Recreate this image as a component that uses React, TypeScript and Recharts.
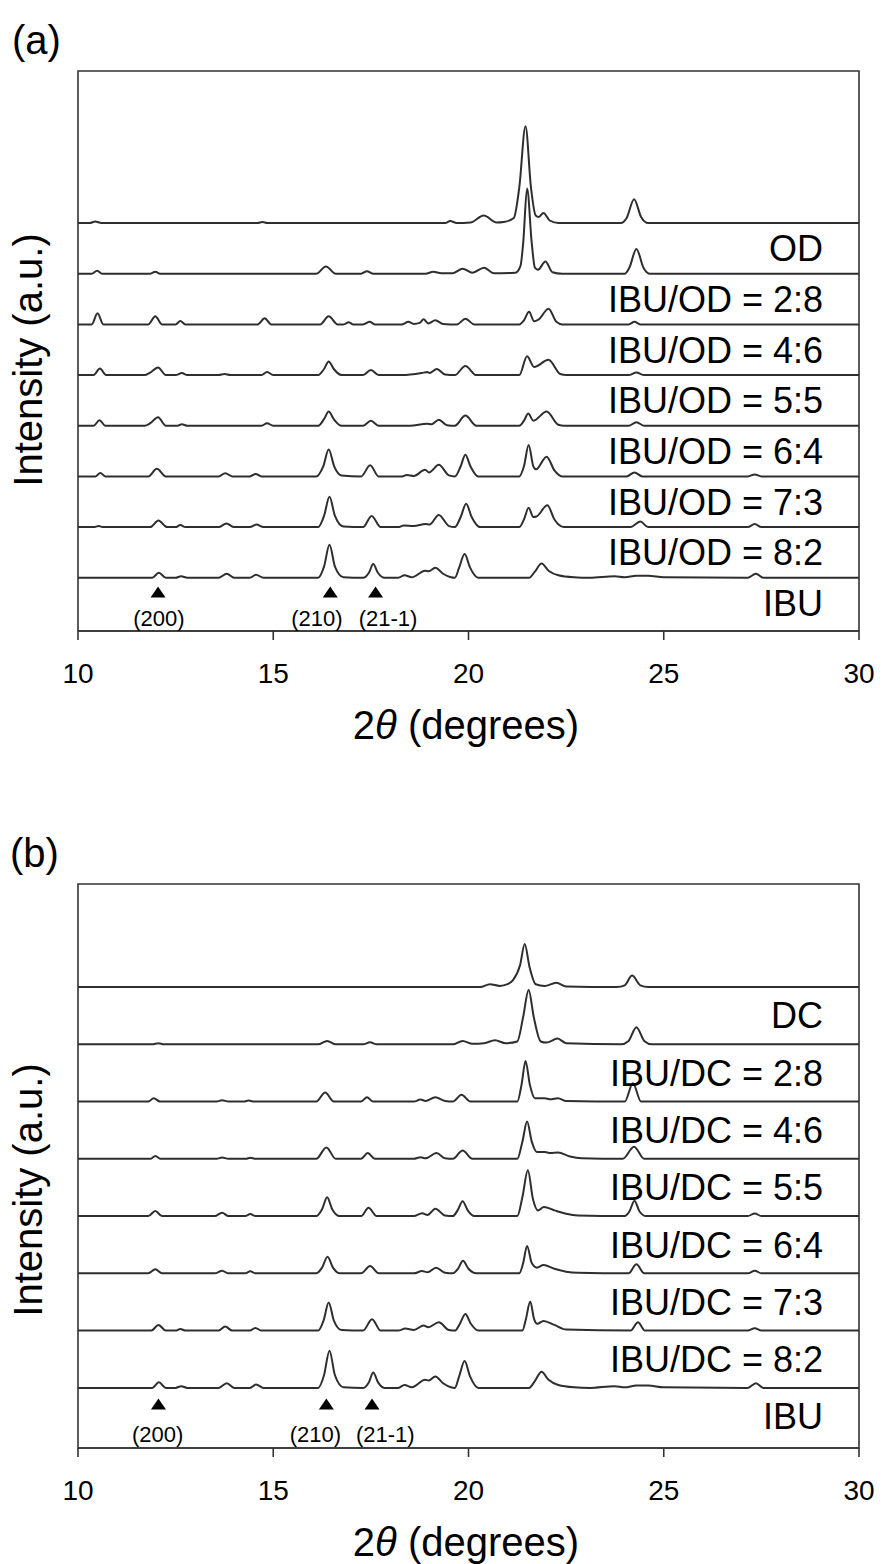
import React from "react";
import {
  LineChart,
  Line,
  XAxis,
  YAxis,
  ReferenceArea,
  ReferenceLine,
  ReferenceDot,
} from "recharts";

type Pt = [number, number];

const FONT = "'Liberation Sans', Arial, Helvetica, sans-serif";
const INK = "#333";

const THETA_TICKS = [10, 15, 20, 25, 30];

// intensities, 1 unit = spacing between stacked traces
// --- panel (a): IBU / OD
const OD: Pt[] = [
  [10, 0], [10.3, 0], [10.44, 0.03], [10.6, 0], [14.6, 0], [14.72, 0.02], [14.85, 0],
  [19.4, 0], [19.53, 0.04], [19.7, 0], [20.05, 0.01], [20.39, 0.15], [20.72, 0.01],
  [20.9, 0.02], [21.16, 0.1], [21.3, 0.7], [21.46, 1.91], [21.6, 0.7], [21.72, 0.15],
  [21.8, 0.12], [21.92, 0.2], [22.08, 0.05], [22.3, 0], [23.9, 0], [24.05, 0.1],
  [24.24, 0.47], [24.42, 0.12], [24.6, 0], [30, 0],
];
const IBU_OD_28: Pt[] = [
  [10, 0], [10.35, 0], [10.49, 0.06], [10.62, 0], [11.85, 0], [11.98, 0.04], [12.1, 0],
  [16.1, 0], [16.35, 0.14], [16.6, 0], [17.25, 0], [17.4, 0.05], [17.55, 0], [18.9, 0],
  [19.1, 0.04], [19.3, 0.01], [19.6, 0.01], [19.85, 0.1], [20.1, 0.02], [20.4, 0.12],
  [20.65, 0.01], [21.2, 0.02], [21.33, 0.15], [21.4, 0.6], [21.5, 1.68], [21.62, 0.6],
  [21.7, 0.12], [21.78, 0.08], [21.97, 0.24], [22.15, 0.03], [22.4, 0], [24.0, 0],
  [24.12, 0.12], [24.3, 0.49], [24.48, 0.12], [24.65, 0], [30, 0],
];
const IBU_OD_46: Pt[] = [
  [10, 0], [10.35, 0], [10.5, 0.22], [10.65, 0], [11.8, 0], [11.98, 0.16], [12.15, 0],
  [12.5, 0], [12.62, 0.065], [12.75, 0], [14.6, 0], [14.78, 0.12], [14.95, 0], [16.2, 0],
  [16.42, 0.16], [16.65, 0], [16.8, 0], [16.93, 0.04], [17.05, 0], [17.3, 0], [17.47, 0.05],
  [17.6, 0], [18.3, 0], [18.46, 0.05], [18.6, 0.01], [18.75, 0.03], [18.85, 0.1],
  [18.97, 0.02], [19.15, 0.08], [19.35, 0.01], [19.7, 0], [19.92, 0.11], [20.15, 0],
  [21.3, 0], [21.42, 0.08], [21.55, 0.25], [21.68, 0.06], [21.8, 0.1], [22.05, 0.31],
  [22.25, 0.05], [22.4, 0], [24.1, 0], [24.25, 0.05], [24.4, 0], [30, 0],
];
const IBU_OD_55: Pt[] = [
  [10, 0], [10.4, 0], [10.56, 0.13], [10.72, 0], [11.7, 0], [11.85, 0.05], [12.05, 0.15],
  [12.25, 0], [12.5, 0], [12.66, 0.04], [12.8, 0], [13.6, 0], [13.75, 0.02], [13.9, 0],
  [14.7, 0], [14.84, 0.06], [15.0, 0], [16.15, 0], [16.3, 0.12], [16.42, 0.27],
  [16.55, 0.12], [16.75, 0], [17.3, 0], [17.5, 0.1], [17.7, 0], [18.3, 0], [18.8, 0.04],
  [18.95, 0.06], [19.0, 0.04], [19.19, 0.12], [19.4, 0.01], [19.65, 0], [19.92, 0.18],
  [20.2, 0], [21.3, 0], [21.5, 0.37], [21.68, 0.16], [22.05, 0.3], [22.35, 0.02],
  [22.5, 0], [24.1, 0], [24.3, 0.05], [24.5, 0], [30, 0],
];
const IBU_OD_64: Pt[] = [
  [10, 0], [10.4, 0], [10.55, 0.11], [10.7, 0], [11.7, 0], [11.85, 0.05], [12.05, 0.17],
  [12.25, 0], [12.55, 0], [12.66, 0.03], [12.8, 0], [14.7, 0], [14.84, 0.05], [15.0, 0],
  [16.15, 0], [16.3, 0.13], [16.42, 0.28], [16.55, 0.13], [16.75, 0], [17.3, 0],
  [17.5, 0.1], [17.7, 0], [18.5, 0], [18.94, 0.04], [19.05, 0.03], [19.24, 0.12],
  [19.45, 0.01], [19.65, 0], [19.92, 0.2], [20.2, 0], [21.3, 0], [21.42, 0.1],
  [21.53, 0.24], [21.66, 0.1], [22.0, 0.28], [22.3, 0.02], [22.45, 0], [24.1, 0],
  [24.3, 0.07], [24.5, 0], [30, 0],
];
const IBU_OD_73: Pt[] = [
  [10, 0], [10.45, 0], [10.57, 0.07], [10.7, 0], [11.8, 0], [12.02, 0.15], [12.25, 0],
  [13.6, 0], [13.77, 0.065], [13.95, 0], [14.4, 0], [14.55, 0.05], [14.7, 0], [16.1, 0],
  [16.28, 0.2], [16.42, 0.53], [16.56, 0.2], [16.75, 0.02], [17.25, 0], [17.48, 0.22],
  [17.7, 0], [18.3, 0], [18.42, 0.03], [18.6, 0.01], [18.89, 0.13], [18.99, 0.08],
  [19.24, 0.23], [19.5, 0.02], [19.65, 0], [19.8, 0.2], [19.92, 0.43], [20.05, 0.2],
  [20.25, 0], [21.3, 0], [21.42, 0.2], [21.54, 0.62], [21.66, 0.2], [21.73, 0.14],
  [22.0, 0.39], [22.2, 0.12], [22.4, 0], [24.05, 0], [24.25, 0.08], [24.45, 0],
  [27.15, 0], [27.33, 0.04], [27.5, 0], [30, 0],
];
const IBU_OD_82: Pt[] = [
  [10, 0], [10.4, 0], [10.53, 0.02], [10.65, 0], [11.85, 0], [12.06, 0.13], [12.28, 0],
  [12.5, 0], [12.62, 0.04], [12.75, 0], [13.6, 0], [13.8, 0.07], [14.0, 0], [14.4, 0],
  [14.57, 0.05], [14.75, 0], [16.15, 0], [16.3, 0.22], [16.44, 0.6], [16.58, 0.22],
  [16.8, 0.01], [17.3, 0], [17.52, 0.22], [17.75, 0], [18.2, 0], [18.34, 0.03],
  [18.6, 0.02], [18.9, 0.06], [19.0, 0.05], [19.24, 0.24], [19.5, 0.02], [19.65, 0],
  [19.8, 0.2], [19.94, 0.46], [20.08, 0.2], [20.3, 0], [21.3, 0], [21.42, 0.15],
  [21.54, 0.38], [21.66, 0.2], [21.74, 0.21], [22.02, 0.43], [22.2, 0.15], [22.45, 0],
  [24.15, 0], [24.4, 0.11], [24.6, 0], [27.15, 0], [27.33, 0.06], [27.5, 0], [30, 0],
];
// pure ibuprofen, same pattern at the bottom of both panels
const IBU: Pt[] = [
  [10, 0], [11.9, 0], [12.07, 0.1], [12.25, 0], [12.5, 0], [12.64, 0.03], [12.8, 0],
  [13.6, 0], [13.81, 0.08], [14.0, 0], [14.4, 0], [14.56, 0.06], [14.75, 0], [16.15, 0],
  [16.3, 0.22], [16.44, 0.65], [16.58, 0.22], [16.8, 0.01], [17.3, 0], [17.45, 0.1],
  [17.56, 0.27], [17.68, 0.1], [17.85, 0], [18.2, 0], [18.36, 0.05], [18.55, 0.01],
  [18.89, 0.14], [18.98, 0.13], [19.15, 0.2], [19.35, 0.08], [19.55, 0.01], [19.65, 0],
  [19.76, 0.2], [19.9, 0.47], [20.04, 0.2], [20.25, 0], [21.55, 0], [21.7, 0.12],
  [21.87, 0.28], [22.05, 0.14], [22.3, 0.05], [22.7, 0.01], [23.1, 0], [23.74, 0.03],
  [24.0, 0.01], [24.3, 0.04], [24.6, 0.04], [25.0, 0.01], [27.15, 0], [27.36, 0.08],
  [27.55, 0], [30, 0],
];

// --- panel (b): IBU / DC
const DC: Pt[] = [
  [10, 0], [20.3, 0], [20.55, 0.05], [20.8, 0.02], [21.0, 0.05], [21.14, 0.12],
  [21.32, 0.38], [21.44, 0.75], [21.56, 0.36], [21.72, 0.05], [21.95, 0.02],
  [22.25, 0.075], [22.5, 0.01], [23.8, 0], [24.0, 0.03], [24.19, 0.2], [24.4, 0.03],
  [24.6, 0], [30, 0],
];
const IBU_DC_28: Pt[] = [
  [10, 0], [11.9, 0], [12.06, 0.02], [12.2, 0], [16.15, 0], [16.38, 0.06], [16.6, 0],
  [17.3, 0], [17.48, 0.035], [17.65, 0], [19.6, 0], [19.85, 0.06], [20.1, 0.01],
  [20.4, 0.02], [20.68, 0.07], [20.95, 0.02], [21.25, 0.05], [21.4, 0.48], [21.54, 0.95],
  [21.67, 0.48], [21.85, 0.05], [22.0, 0.03], [22.28, 0.1], [22.5, 0.02], [23.9, 0],
  [24.1, 0.06], [24.3, 0.3], [24.5, 0.06], [24.7, 0], [30, 0],
];
const IBU_DC_46: Pt[] = [
  [10, 0], [11.8, 0], [11.94, 0.06], [12.1, 0], [13.55, 0], [13.69, 0.025], [13.85, 0],
  [14.25, 0], [14.37, 0.02], [14.5, 0], [16.1, 0], [16.33, 0.16], [16.55, 0], [17.25, 0],
  [17.4, 0.075], [17.55, 0], [18.6, 0], [18.77, 0.035], [18.9, 0.01], [19.15, 0.075],
  [19.4, 0.01], [19.6, 0], [19.82, 0.12], [20.05, 0], [21.25, 0], [21.36, 0.3],
  [21.46, 0.71], [21.57, 0.3], [21.7, 0.06], [21.95, 0.06], [22.1, 0.04], [22.29, 0.06],
  [22.5, 0.01], [24.0, 0], [24.21, 0.32], [24.42, 0], [30, 0],
];
const IBU_DC_55: Pt[] = [
  [10, 0], [11.85, 0], [11.98, 0.05], [12.12, 0], [13.55, 0], [13.69, 0.025], [13.85, 0],
  [14.3, 0], [14.41, 0.02], [14.55, 0], [16.1, 0], [16.36, 0.2], [16.6, 0], [17.25, 0],
  [17.42, 0.1], [17.6, 0], [18.6, 0], [18.77, 0.03], [18.9, 0.01], [19.18, 0.1],
  [19.4, 0.01], [19.6, 0], [19.85, 0.145], [20.1, 0], [21.25, 0], [21.38, 0.3],
  [21.5, 0.65], [21.62, 0.3], [21.75, 0.12], [21.95, 0.12], [22.1, 0.1], [22.29, 0.11],
  [22.6, 0.04], [22.9, 0.01], [23.95, 0], [24.24, 0.21], [24.5, 0], [30, 0],
];
const IBU_DC_64: Pt[] = [
  [10, 0], [11.8, 0], [11.98, 0.09], [12.15, 0], [13.5, 0], [13.69, 0.06], [13.85, 0],
  [14.28, 0], [14.41, 0.035], [14.55, 0], [16.1, 0], [16.25, 0.12], [16.38, 0.33],
  [16.51, 0.12], [16.7, 0], [17.25, 0], [17.44, 0.145], [17.65, 0], [18.6, 0],
  [18.81, 0.05], [18.95, 0.02], [19.15, 0.13], [19.4, 0.01], [19.6, 0], [19.72, 0.1],
  [19.85, 0.26], [19.98, 0.1], [20.15, 0], [21.25, 0], [21.38, 0.33], [21.52, 0.8],
  [21.65, 0.3], [21.78, 0.1], [21.93, 0.16], [22.2, 0.1], [22.5, 0.04], [22.8, 0.01],
  [24.0, 0], [24.12, 0.08], [24.25, 0.27], [24.38, 0.08], [24.55, 0], [27.15, 0],
  [27.33, 0.047], [27.5, 0], [30, 0],
];
const IBU_DC_73: Pt[] = [
  [10, 0], [11.8, 0], [11.98, 0.07], [12.15, 0], [13.5, 0], [13.69, 0.047], [13.85, 0],
  [14.28, 0], [14.41, 0.035], [14.55, 0], [16.1, 0], [16.25, 0.1], [16.39, 0.29],
  [16.53, 0.1], [16.7, 0], [17.25, 0], [17.48, 0.13], [17.7, 0], [18.6, 0], [18.81, 0.04],
  [18.95, 0.02], [19.17, 0.1], [19.4, 0.01], [19.6, 0], [19.73, 0.08], [19.86, 0.22],
  [20.0, 0.08], [20.2, 0], [21.3, 0], [21.4, 0.18], [21.5, 0.48], [21.62, 0.18],
  [21.75, 0.1], [21.92, 0.145], [22.2, 0.08], [22.5, 0.03], [22.8, 0.01], [24.1, 0],
  [24.3, 0.16], [24.5, 0], [27.15, 0], [27.33, 0.047], [27.5, 0], [30, 0],
];
const IBU_DC_82: Pt[] = [
  [10, 0], [11.88, 0], [12.06, 0.1], [12.25, 0], [12.5, 0], [12.62, 0.03], [12.75, 0],
  [13.6, 0], [13.77, 0.07], [13.95, 0], [14.4, 0], [14.54, 0.047], [14.7, 0], [16.15, 0],
  [16.29, 0.18], [16.42, 0.49], [16.55, 0.18], [16.75, 0.01], [17.3, 0], [17.53, 0.2],
  [17.75, 0], [18.2, 0], [18.38, 0.035], [18.6, 0.01], [18.85, 0.09], [18.97, 0.06],
  [19.24, 0.145], [19.5, 0.01], [19.65, 0], [19.78, 0.12], [19.92, 0.29], [20.06, 0.12],
  [20.25, 0], [21.38, 0], [21.47, 0.2], [21.58, 0.51], [21.68, 0.2], [21.76, 0.12],
  [21.92, 0.17], [22.2, 0.1], [22.5, 0.02], [24.15, 0], [24.34, 0.145], [24.52, 0],
  [27.15, 0], [27.33, 0.04], [27.5, 0], [30, 0],
];

// top to bottom
const SERIES_A = [OD, IBU_OD_28, IBU_OD_46, IBU_OD_55, IBU_OD_64, IBU_OD_73, IBU_OD_82, IBU];
const LABELS_A = [
  "OD", "IBU/OD = 2:8", "IBU/OD = 4:6", "IBU/OD = 5:5",
  "IBU/OD = 6:4", "IBU/OD = 7:3", "IBU/OD = 8:2", "IBU",
];
const SERIES_B = [DC, IBU_DC_28, IBU_DC_46, IBU_DC_55, IBU_DC_64, IBU_DC_73, IBU_DC_82, IBU];
const LABELS_B = [
  "DC", "IBU/DC = 2:8", "IBU/DC = 4:6", "IBU/DC = 5:5",
  "IBU/DC = 6:4", "IBU/DC = 7:3", "IBU/DC = 8:2", "IBU",
];

// ibuprofen reflections marked under the traces
const HKL = ["(200)", "(210)", "(21-1)"];
const HKL_PEAKS_A = [12.05, 16.46, 17.62];
const HKL_TEXT_A = [12.07, 16.12, 17.94];
const HKL_PEAKS_B = [12.06, 16.36, 17.53];
const HKL_TEXT_B = [12.04, 16.08, 17.87];

const Y_MIN = -0.05;

interface PanelProps {
  series: Pt[][];
  labels: string[];
  yMax: number;
  height: number;
  margin: { top: number; right: number; bottom: number; left: number };
  hklPeaks: number[];
  hklText: number[];
}

const Triangle = (p: any) => (
  <path
    d={`M${p.cx - 7.5},${p.cy + 5.5}L${p.cx + 7.5},${p.cy + 5.5}L${p.cx},${p.cy - 5.5}Z`}
    fill="#000"
  />
);

function Panel({ series, labels, yMax, height, margin, hklPeaks, hklText }: PanelProps) {
  const n = series.length;
  return (
    <LineChart width={882} height={height} margin={margin}>
      <XAxis
        type="number"
        dataKey="x"
        domain={[10, 30]}
        ticks={THETA_TICKS}
        interval={0}
        allowDataOverflow
        height={60}
        tickSize={9}
        tickMargin={23}
        stroke={INK}
        strokeWidth={1.6}
        tick={{ fontSize: 28, fill: "#000", fontFamily: FONT }}
      />
      <YAxis type="number" domain={[Y_MIN, yMax]} hide width={0} allowDataOverflow />
      <ReferenceArea
        x1={10}
        x2={30}
        y1={Y_MIN}
        y2={yMax}
        fill="none"
        stroke={INK}
        strokeWidth={1.6}
      />
      {series.map((pts, i) => (
        <Line
          key={labels[i]}
          name={labels[i]}
          data={pts.map(([x, y]) => ({ x, y: y + n - i }))}
          dataKey="y"
          type="monotone"
          dot={false}
          stroke="#2e2e2e"
          strokeWidth={2}
          isAnimationActive={false}
        />
      ))}
      {labels.map((lbl, i) => (
        <ReferenceLine
          key={`lbl-${i}`}
          y={n - i - 0.5}
          stroke="none"
          label={{
            value: lbl,
            position: "insideRight",
            offset: 36,
            fontSize: 36,
            fill: "#000",
            fontFamily: FONT,
          }}
        />
      ))}
      {hklPeaks.map((x, i) => (
        <ReferenceDot key={`tri-${i}`} x={x} y={0.72} shape={Triangle} />
      ))}
      {hklText.map((x, i) => (
        <ReferenceDot
          key={`hkl-${i}`}
          x={x}
          y={0.19}
          shape={(p: any) => (
            <text
              x={p.cx}
              y={p.cy}
              textAnchor="middle"
              dominantBaseline="central"
              fontSize={22}
              fontFamily={FONT}
              fill="#000"
            >
              {HKL[i]}
            </text>
          )}
        />
      ))}
    </LineChart>
  );
}

export default function App() {
  return (
    <div
      style={{
        position: "absolute",
        left: 0,
        top: 0,
        width: 882,
        height: 1564,
        background: "#fff",
        fontFamily: FONT,
      }}
    >
      <div style={{ position: "absolute", left: 0, top: 0 }}>
        <Panel
          series={SERIES_A}
          labels={LABELS_A}
          yMax={11}
          height={700}
          margin={{ top: 71, right: 23, bottom: 9, left: 78 }}
          hklPeaks={HKL_PEAKS_A}
          hklText={HKL_TEXT_A}
        />
      </div>
      <div style={{ position: "absolute", left: 0, top: 780 }}>
        <Panel
          series={SERIES_B}
          labels={LABELS_B}
          yMax={9.8}
          height={740}
          margin={{ top: 104, right: 23, bottom: 12, left: 78 }}
          hklPeaks={HKL_PEAKS_B}
          hklText={HKL_TEXT_B}
        />
      </div>
      <svg
        width={882}
        height={1564}
        style={{ position: "absolute", left: 0, top: 0, pointerEvents: "none" }}
        fontFamily={FONT}
        fill="#000"
      >
        <text x={12} y={40} fontSize={40} dominantBaseline="central">(a)</text>
        <text x={10} y={853} fontSize={40} dominantBaseline="central">(b)</text>
        <text
          transform="translate(28, 360) rotate(-90)"
          textAnchor="middle"
          dominantBaseline="central"
          fontSize={40}
        >
          Intensity (a.u.)
        </text>
        <text
          transform="translate(28, 1190) rotate(-90)"
          textAnchor="middle"
          dominantBaseline="central"
          fontSize={40}
        >
          Intensity (a.u.)
        </text>
        <text x={466} y={725} textAnchor="middle" dominantBaseline="central" fontSize={40}>
          2<tspan fontStyle="italic">θ</tspan> (degrees)
        </text>
        <text x={466} y={1542} textAnchor="middle" dominantBaseline="central" fontSize={40}>
          2<tspan fontStyle="italic">θ</tspan> (degrees)
        </text>
      </svg>
    </div>
  );
}
